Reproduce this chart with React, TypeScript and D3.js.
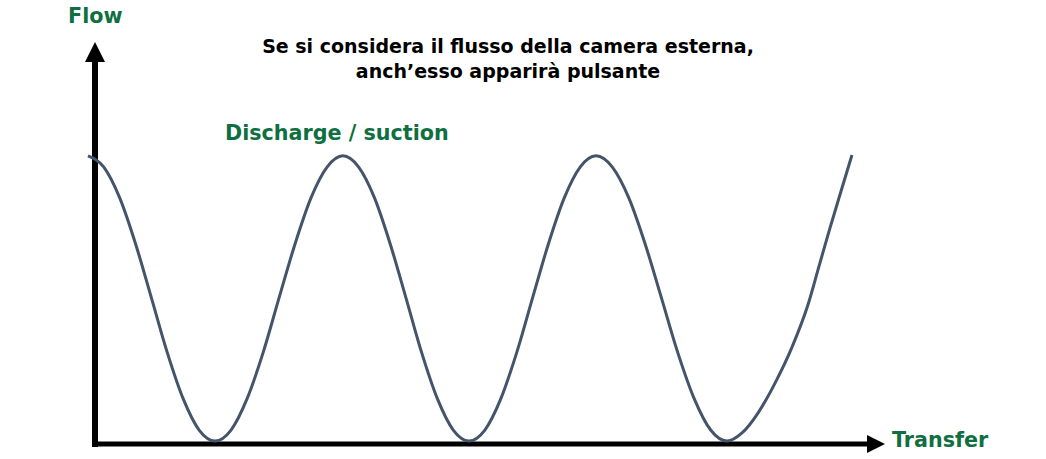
import React from "react"
import * as d3 from "d3"

// curve: transfer (0-100) vs flow (0-100)
const transfer = [
  -0.89, 1.12, 3.13, 5.14, 7.15, 9.16, 11.17, 13.18, 15.19,
  17.22, 19.24, 21.27, 23.29, 25.32, 27.34, 29.37, 31.39,
  33.38, 35.38, 37.37, 39.37, 41.36, 43.35, 45.35, 47.34,
  49.35, 51.36, 53.37, 55.38, 57.39, 59.4, 61.41, 63.42,
  65.49, 67.57, 69.64, 71.71, 73.78, 75.86, 77.93, 80.0,
  81.9, 83.92, 86.08, 88.23, 90.25, 91.65, 93.04, 94.43, 95.82,
]
const flow = [
  99.7, 95.8, 85.1, 69.1, 50.3, 31.3, 15.3, 4.5, 0.7,
  4.5, 15.3, 31.3, 50.3, 69.1, 85.1, 95.8, 99.7,
  95.8, 85.1, 69.1, 50.3, 31.3, 15.3, 4.5, 0.7,
  4.5, 15.3, 31.3, 50.3, 69.1, 85.1, 95.8, 99.7,
  95.8, 85.1, 69.1, 50.3, 31.3, 15.3, 4.5, 0.7,
  3.5, 10.4, 20.8, 33.3, 48.0, 61.4, 74.7, 87.4, 100.0,
]

const titleLines = [
  "Se si considera il flusso della camera esterna,",
  "anch\u2019esso apparirà pulsante",
]
const yLabel = "Flow"
const xLabel = "Transfer"
const seriesLabel = "Discharge / suction"

const GREEN = "#0f6f41"
const CURVE = "#44546a"
const FONT = "'DejaVu Sans', Verdana, sans-serif"

export default function App() {
  const width = 1046
  const height = 459

  const x = d3.scaleLinear().domain([0, 100]).range([95, 885])
  const y = d3.scaleLinear().domain([0, 100]).range([443, 155])

  const points = transfer.map((t, i) => [t, flow[i]] as [number, number])
  const line = d3
    .line<[number, number]>()
    .x(d => x(d[0]))
    .y(d => y(d[1]))
    .curve(d3.curveMonotoneX)

  const x0 = x(0)
  const y0 = y(0) + 1
  const yTip = 42
  const xTip = x(100)

  return (
    <svg
      width={width}
      height={height}
      style={{ position: "absolute", left: 0, top: 0, background: "#fff" }}
    >
      {/* axes */}
      <line x1={x0} y1={y0 + 3} x2={x0} y2={yTip + 18} stroke="#000" strokeWidth={6} />
      <path
        d={`M${x0},${yTip} L${x0 + 10},${yTip + 20} L${x0 - 10},${yTip + 20} Z`}
        fill="#000"
      />
      <line x1={x0 - 3} y1={y0} x2={xTip - 16} y2={y0} stroke="#000" strokeWidth={5} />
      <path
        d={`M${xTip},${y0} L${xTip - 18},${y0 - 9} L${xTip - 18},${y0 + 9} Z`}
        fill="#000"
      />

      <path d={line(points) ?? ""} fill="none" stroke={CURVE} strokeWidth={3} />

      <g fontFamily={FONT} fontWeight="bold">
        <g fontSize={20.7} fill={GREEN}>
          <text x={68} y={23}>
            {yLabel}
          </text>
          <text x={892} y={447}>
            {xLabel}
          </text>
          <text x={225} y={140}>
            {seriesLabel}
          </text>
        </g>
        {titleLines.map((t, i) => (
          <text key={i} x={508} y={53 + i * 25} fontSize={19} textAnchor="middle" fill="#000">
            {t}
          </text>
        ))}
      </g>
    </svg>
  )
}
